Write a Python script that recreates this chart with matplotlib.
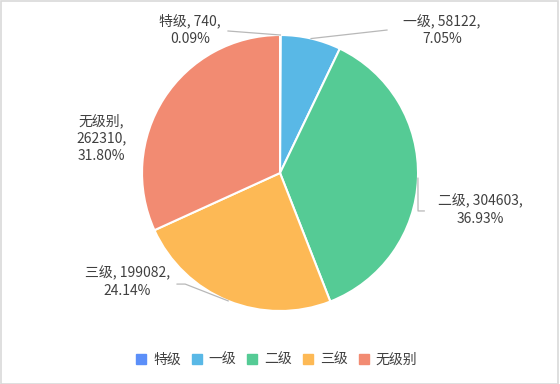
import numpy as np
import matplotlib
matplotlib.use("Agg")
import matplotlib.pyplot as plt
from matplotlib.lines import Line2D

plt.rcParams['font.family'] = ['Noto Sans CJK SC', 'DejaVu Sans']

# data
grades = ['特级', '一级', '二级', '三级', '无级别']
counts = [740, 58122, 304603, 199082, 262310]
percents = ['0.09%', '7.05%', '36.93%', '24.14%', '31.80%']
colors = ['#5b8ff9', '#59b8e6', '#55cb95', '#fdb955', '#f28b72']

fig = plt.figure(figsize=(5.6, 3.84), dpi=100)
# light gray frame around the whole picture
fig.patches.append(plt.Rectangle((0.001, 0.001), 0.996, 0.996, transform=fig.transFigure,
                                 fill=False, edgecolor='#d9d9d9', linewidth=1.2))

ax = fig.add_axes([0.2536, 0.1901, 0.4929, 0.71875])
wedges, _ = ax.pie(counts, colors=colors, startangle=90, counterclock=False,
                   radius=1, wedgeprops=dict(edgecolor='white', linewidth=1.5))
ax.set_xlim(-1, 1)
ax.set_ylim(-1, 1)
ax.set_aspect('equal')
ax.axis('off')

labels = ['%s, %d,\n%s' % (g, c, p) for g, c, p in zip(grades, counts, percents)]
labels[4] = '%s,\n%d,\n%s' % (grades[4], counts[4], percents[4])

# label position (data units) and leader path per slice
text_pos = [(-0.652, 1.036), (1.175, 1.033), (1.45, -0.268), (-1.105, -0.790), (-1.295, 0.254)]
bends = [[(-0.377, 1.029)], [(0.775, 1.036)], [(1.0, -0.275), (1.045, -0.275)],
         [(-0.687, -0.805), (-0.746, -0.805)], []]

line_col = '#b8b8b8'
for w, lab, tp, bend in zip(wedges, labels, text_pos, bends):
    mid = np.deg2rad((w.theta1 + w.theta2) / 2)
    ex, ey = np.cos(mid), np.sin(mid)
    if bend:
        xs = [ex] + [b[0] for b in bend]
        ys = [ey] + [b[1] for b in bend]
        ax.add_line(Line2D(xs, ys, color=line_col, linewidth=0.9, clip_on=False))
    ax.text(tp[0], tp[1], lab, ha='center', va='center', multialignment='center',
            fontsize=10, color='#404040', linespacing=1.3, clip_on=False)

handles = [Line2D([], [], marker='s', linestyle='none', markersize=7,
                  markerfacecolor=c, markeredgecolor=c) for c in colors]
fig.legend(handles, grades, loc='center', bbox_to_anchor=(0.493, 0.064), ncol=5,
           frameon=False, fontsize=10, handletextpad=0.4, columnspacing=0.7,
           handlelength=0.9, labelcolor='#404040')

fig.savefig('out.png', dpi=100)
